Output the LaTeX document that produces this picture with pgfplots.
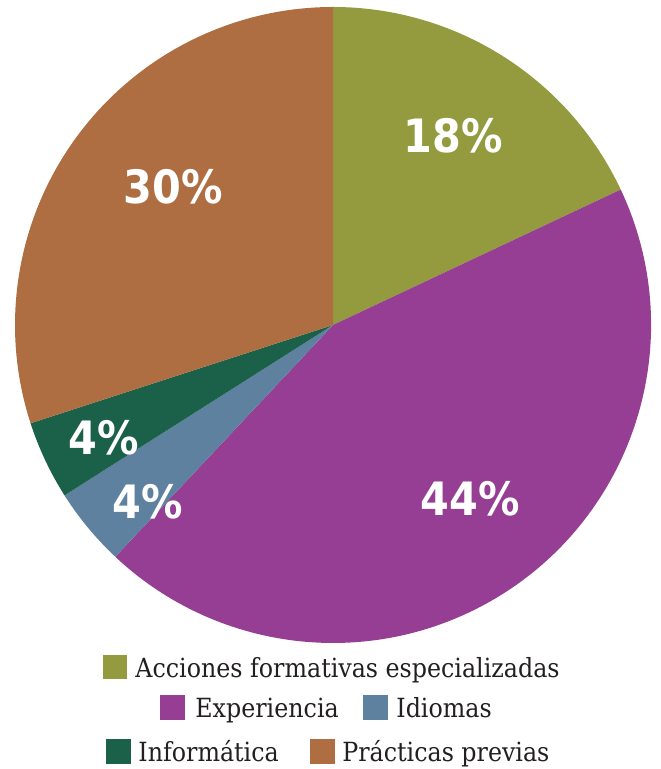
\documentclass[border=0pt]{standalone}
\usepackage{pgfplots}
\pgfplotsset{compat=1.18}
\usepackage{fontspec}
\setmainfont{DejaVu Serif Condensed}
\newfontfamily\labelfont{DejaVu Sans Condensed}[BoldFont={DejaVu Sans Condensed Bold}]
\definecolor{cAcc}{RGB}{147,155,62}
\definecolor{cExp}{RGB}{150,62,147}
\definecolor{cIdi}{RGB}{94,129,160}
\definecolor{cInf}{RGB}{27,97,74}
\definecolor{cPra}{RGB}{174,110,65}
\definecolor{txt}{RGB}{35,31,32}

\begin{document}
\begin{tikzpicture}
\begin{axis}[
    hide axis, scale only axis, clip=false,
    width=330pt, height=384.5pt,
    xmin=0, xmax=660, ymin=0, ymax=769,
]
% frame that fixes the page size
\path (axis cs:0,0) rectangle (axis cs:660,769);
% shares in percent: 18, 44, 4, 4, 30 (clockwise from the top)
\def\R{159pt}
\begin{scope}[overlay]
\fill[cAcc] (axis cs:333,444) -- ++(90:\R) arc[start angle=90, end angle={90-18*3.6}, radius=\R] -- cycle;
\fill[cExp] (axis cs:333,444) -- ++({90-18*3.6}:\R) arc[start angle={90-18*3.6}, end angle={90-62*3.6}, radius=\R] -- cycle;
\fill[cIdi] (axis cs:333,444) -- ++({90-62*3.6}:\R) arc[start angle={90-62*3.6}, end angle={90-66*3.6}, radius=\R] -- cycle;
\fill[cInf] (axis cs:333,444) -- ++({90-66*3.6}:\R) arc[start angle={90-66*3.6}, end angle={90-70*3.6}, radius=\R] -- cycle;
\fill[cPra] (axis cs:333,444) -- ++({90-70*3.6}:\R) arc[start angle={90-70*3.6}, end angle={90-100*3.6}, radius=\R] -- cycle;
\end{scope}

\begin{scope}[every node/.style={anchor=base, inner sep=0pt, text=white, font=\labelfont\bfseries\fontsize{23}{23}\selectfont}]
\node at (axis cs:453,616) {18\%};
\node at (axis cs:173,565) {30\%};
\node at (axis cs:104,314) {4\%};
\node at (axis cs:148,250) {4\%};
\node at (axis cs:470,253) {44\%};
\end{scope}

\begin{scope}[every node/.style={anchor=base west, inner sep=0pt, text=txt, font=\fontsize{13.2}{13.2}\selectfont}]
\fill[cAcc] (axis cs:103,90) rectangle (axis cs:127,114);
\node at (axis cs:135,91) {Acciones formativas especializadas};
\fill[cExp] (axis cs:160,49) rectangle (axis cs:185,74);
\node at (axis cs:195,51) {Experiencia};
\fill[cIdi] (axis cs:363,49) rectangle (axis cs:388,74);
\node at (axis cs:396,51) {Idiomas};
\fill[cInf] (axis cs:106,5) rectangle (axis cs:131,30);
\node at (axis cs:138,7) {Informática};
\fill[cPra] (axis cs:310,5) rectangle (axis cs:335,30);
\node at (axis cs:342,7) {Prácticas previas};
\end{scope}
\end{axis}
\end{tikzpicture}
\end{document}
